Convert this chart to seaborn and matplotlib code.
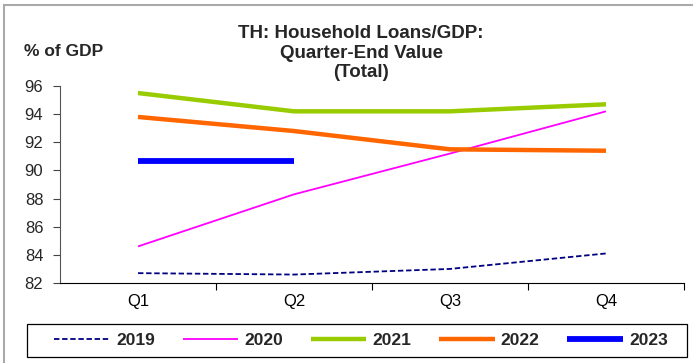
import numpy as np
import pandas as pd
import matplotlib
matplotlib.use('Agg')
import matplotlib.pyplot as plt
from matplotlib.patches import Rectangle
import seaborn as sns

# Household loans / GDP, quarter-end values
quarters = ['Q1', 'Q2', 'Q3', 'Q4']
y2019 = [82.7, 82.6, 83.0, 84.1]
y2020 = [84.6, 88.3, 91.2, 94.2]
y2021 = [95.5, 94.2, 94.2, 94.7]
y2022 = [93.8, 92.8, 91.5, 91.4]
y2023 = [90.7, 90.7]
yticks = [82, 84, 86, 88, 90, 92, 94, 96]

series = {'2019': y2019, '2020': y2020, '2021': y2021, '2022': y2022, '2023': y2023}
styles = {
    '2019': dict(color='#000080', lw=1.3, ls=(0, (3, 1.5))),
    '2020': dict(color='#FF00FF', lw=1.3, ls='-'),
    '2021': dict(color='#99CC00', lw=3.2, ls='-'),
    '2022': dict(color='#FF6600', lw=3.2, ls='-'),
    '2023': dict(color='#0000FF', lw=4.2, ls='-'),
}

rows = []
for year, vals in series.items():
    for i, v in enumerate(vals):
        rows.append({'Year': year, 'pos': i, 'Value': v})
df = pd.DataFrame(rows)

sns.set_style('white')
plt.rcParams['font.family'] = ['Liberation Sans', 'DejaVu Sans']

fig = plt.figure(figsize=(6.93, 3.63), dpi=100)
ax = fig.add_axes([60 / 693, 1 - 283 / 363, 624 / 693, 197 / 363])

for year in series:
    st = styles[year]
    sub = df[df['Year'] == year]
    sns.lineplot(data=sub, x='pos', y='Value', ax=ax, color=st['color'],
                 linewidth=st['lw'], linestyle=st['ls'], label=year,
                 sort=False, solid_capstyle='butt', dash_capstyle='butt')

ax.set_xlim(-0.5, len(quarters) - 0.5)
ax.set_ylim(82, 96)
ax.set_yticks(yticks)
ax.set_xticks(np.arange(len(quarters)))
ax.set_xticklabels(quarters)
ax.set_xticks(np.arange(len(quarters)) + 0.5, minor=True)
ax.tick_params(axis='x', which='major', length=0, pad=8, labelsize=12, colors='black')
ax.tick_params(axis='x', which='minor', length=5, width=0.8, direction='out', color='black', bottom=True)
ax.tick_params(axis='y', length=5, width=0.8, direction='out', color='#444444', labelsize=12, left=True, pad=7)
ax.set_xlabel('')
ax.set_ylabel('')
for s in ['top', 'right']:
    ax.spines[s].set_visible(False)
ax.spines['left'].set_color('#555555')
ax.spines['bottom'].set_color('black')
ax.spines['left'].set_linewidth(0.8)
ax.spines['bottom'].set_linewidth(0.8)

fig.text(361 / 693, 1 - 25 / 363, 'TH: Household Loans/GDP:\nQuarter-End Value\n(Total)',
         ha='center', va='top', fontsize=13.5, fontweight='bold', linespacing=1.2)
fig.text(24 / 693, 1 - 52 / 363, '% of GDP', ha='left', va='center', fontsize=12.5, fontweight='bold')

handles, labels = ax.get_legend_handles_labels()
ax.get_legend().remove()
leg = fig.legend(handles, labels, loc='center', ncol=5,
                 bbox_to_anchor=(361 / 693, 1 - 340.5 / 363),
                 frameon=False,
                 handlelength=3.2, handletextpad=0.35, columnspacing=1.6,
                 prop={'weight': 'bold', 'size': 12.5})
# legend box
fig.patches.append(Rectangle((27 / 693, 1 - 357 / 363), 660 / 693, 33 / 363, transform=fig.transFigure,
                             fill=False, edgecolor='black', linewidth=0.9))

# light grey frame around chart area
fig.patches.append(Rectangle((4 / 693, -0.1), 1.2, 1 - 5 / 363 + 0.1, transform=fig.transFigure,
                             fill=False, edgecolor='#AAAAAA', linewidth=1.5))

fig.savefig('out.png', dpi=100)
